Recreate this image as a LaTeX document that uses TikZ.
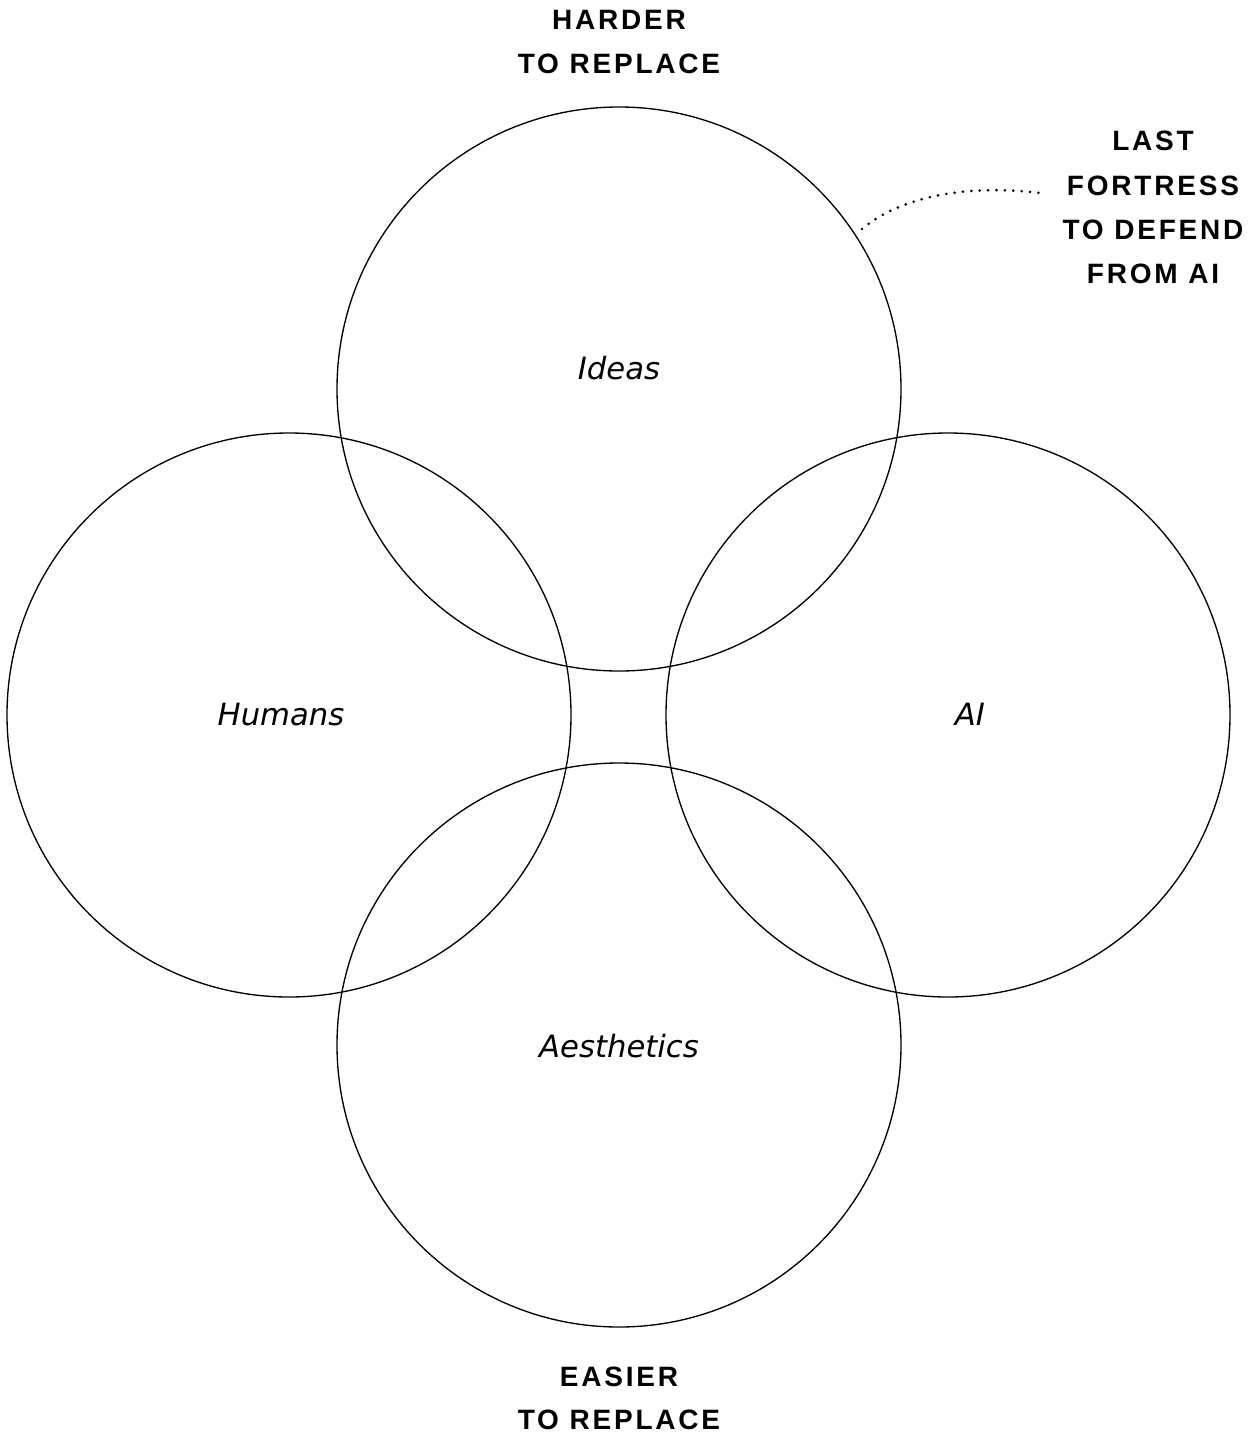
\documentclass[tikz,border=0pt]{standalone}
\usepackage{fontspec}
\setmainfont{Liberation Sans}
\newfontfamily\capsfont[LetterSpace=10]{Liberation Sans}
\newfontfamily\labfont{DejaVu Sans}
\begin{document}
\begin{tikzpicture}[x=0.75pt,y=-0.75pt,
  venn/.style={draw=black,line width=1pt,circle,minimum size=423pt,inner sep=0pt},
  caps/.style={font=\capsfont\bfseries\fontsize{21}{25}\selectfont,anchor=base,inner sep=0pt},
  lab/.style={font=\labfont\itshape\fontsize{23}{27}\selectfont,anchor=base,inner sep=0pt},
  dots/.style={line width=2.2pt,line cap=round,dash pattern=on 0pt off 6.3pt}]
\useasboundingbox (0,0) rectangle (1250,1439);
\node[venn] (ideas) at (619,389) {};
\node[venn] (humans) at (289,715) {};
\node[venn] (ai) at (948,715) {};
\node[venn] (aest) at (619,1045) {};
\node[lab] (lideas) at (619,379) {Ideas};
\node[lab] (lhumans) at (281,725) {Humans};
\node[lab] (lai) at (970,725) {AI};
\node[lab] (laest) at (619,1057) {Aesthetics};
\node[caps] (h1) at (619,29) {HARDER};
\node[caps] (h2) at (619,73) {TO REPLACE};
\node[caps] (e1) at (619,1386) {EASIER};
\node[caps] (e2) at (619,1429) {TO REPLACE};
\node[caps] (f1) at (1153,150) {LAST};
\node[caps] (f2) at (1153,195) {FORTRESS};
\node[caps] (f3) at (1153,239) {TO DEFEND};
\node[caps] (f4) at (1153,283) {FROM AI};
\coordinate (dstart) at (862,229);
\coordinate (dend) at (1040,193);
\draw[dots] (dstart) .. controls (905,193) and (975,185) .. (dend);
\end{tikzpicture}
\end{document}
